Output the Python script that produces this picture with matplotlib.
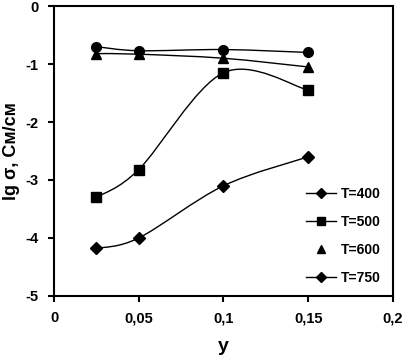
import numpy as np
import matplotlib.pyplot as plt
from matplotlib.path import Path
from matplotlib.patches import PathPatch
from matplotlib.lines import Line2D

plt.rcParams['font.family'] = ['Liberation Sans', 'DejaVu Sans']
plt.rcParams['font.weight'] = 'bold'

y_frac = [0.025, 0.05, 0.1, 0.15]
lg_400 = [-4.18, -4.0, -3.1, -2.6]
lg_500 = [-3.3, -2.82, -1.15, -1.45]
lg_600 = [-0.82, -0.83, -0.9, -1.05]
lg_750 = [-0.7, -0.77, -0.75, -0.8]
labels = ['T=400', 'T=500', 'T=600', 'T=750']
xticks = [0, 0.05, 0.1, 0.15, 0.2]
xtick_labels = ['0', '0,05', '0,1', '0,15', '0,2']
yticks = [0, -1, -2, -3, -4, -5]


def smooth_path(xs, ys, t=1/6):
    # Catmull-Rom style bezier, like excel smoothed lines
    pts = np.column_stack([xs, ys])
    verts = [pts[0]]
    codes = [Path.MOVETO]
    n = len(pts)
    for i in range(n - 1):
        p0 = pts[max(i - 1, 0)]
        p1 = pts[i]
        p2 = pts[i + 1]
        p3 = pts[min(i + 2, n - 1)]
        c1 = p1 + (p2 - p0) * t
        c2 = p2 - (p3 - p1) * t
        verts += [c1, c2, p2]
        codes += [Path.CURVE4] * 3
    return Path(verts, codes)


fig = plt.figure(figsize=(4.03, 3.57), dpi=100)
ax = fig.add_axes([0.134, 0.171, 0.841, 0.812])

series = [
    (lg_400, 'D', 6, True),
    (lg_500, 's', 7, True),
    (lg_600, '^', 7, True),
    (lg_750, 'o', 7, True),
]
for vals, m, ms, line in series:
    if line:
        ax.add_patch(PathPatch(smooth_path(y_frac, vals), fill=False,
                               edgecolor='black', lw=1.0))
    ax.plot(y_frac, vals, linestyle='none', marker=m, ms=ms, color='black')

handles = [
    Line2D([], [], color='black', lw=1.0, marker='D', ms=5),
    Line2D([], [], color='black', lw=1.0, marker='s', ms=6),
    Line2D([], [], color='black', lw=0, marker='^', ms=6),
    Line2D([], [], color='black', lw=1.0, marker='D', ms=5),
]
ax.legend(handles, labels, loc='lower right', bbox_to_anchor=(1.0, -0.005),
          frameon=False, fontsize=10, handlelength=2.2, labelspacing=1.0,
          handletextpad=0.3)

ax.set_xlim(0, 0.2)
ax.set_ylim(-5, 0)
ax.set_xticks(xticks)
ax.set_xticklabels(xtick_labels)
ax.set_yticks(yticks)
ax.set_yticklabels([str(v) for v in yticks])
ax.tick_params(labelsize=10.5, width=1.5, length=4, pad=7)
for s in ax.spines.values():
    s.set_linewidth(1.5)

ax.set_xlabel('y', fontsize=14, fontweight='bold', labelpad=9)
ax.set_ylabel('lg σ, См/см', fontsize=13, fontweight='bold', labelpad=4)

fig.savefig('out.png', dpi=100)
